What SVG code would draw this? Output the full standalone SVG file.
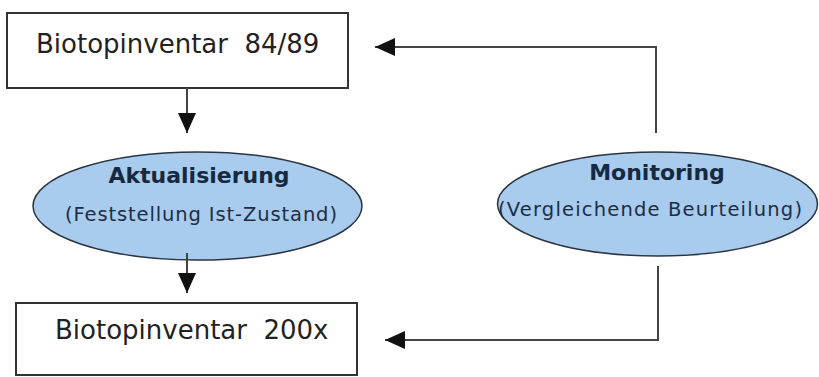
<svg xmlns="http://www.w3.org/2000/svg" width="819" height="377" viewBox="0 0 819 377">
<defs>
<marker id="ah" viewBox="0 0 20 18" refX="20" refY="9" markerWidth="20" markerHeight="18" markerUnits="userSpaceOnUse" orient="auto">
<path d="M0,0 L20,9 L0,18 Z" fill="#111"/>
</marker>
</defs>
<style>
.box{fill:#fff;stroke:#333;stroke-width:2}
.ell{fill:#a8cbee;stroke:#2a3440;stroke-width:1.5}
.bt{font-family:"DejaVu Sans",Verdana,sans-serif;font-size:26px;fill:#222;white-space:pre}
.et{font-family:"DejaVu Sans",Verdana,sans-serif;font-size:22px;font-weight:bold;fill:#152a40;text-anchor:middle}
.st{font-family:"DejaVu Sans",Verdana,sans-serif;font-size:19.5px;fill:#1c2e44;text-anchor:middle}
.c{fill:none;stroke:#444;stroke-width:2;marker-end:url(#ah)}
</style>
<rect width="819" height="377" fill="#fff"/>
<g id="box1">
<rect class="box" x="7" y="13" width="341" height="75"/>
<text class="bt" x="36" y="53">Biotopinventar  84/89</text>
</g>
<g id="aktualisierung">
<ellipse class="ell" cx="197.5" cy="206" rx="164.5" ry="54"/>
<text class="et" x="199" y="183">Aktualisierung</text>
<text class="st" x="201" y="221" textLength="272" lengthAdjust="spacing">(Feststellung Ist-Zustand)</text>
</g>
<g id="box2">
<rect class="box" x="16" y="303" width="341" height="72"/>
<text class="bt" x="55" y="339">Biotopinventar  200x</text>
</g>
<g id="monitoring">
<ellipse class="ell" cx="657.5" cy="204" rx="160" ry="52"/>
<text class="et" x="657" y="180">Monitoring</text>
<text class="st" x="650" y="216" textLength="304" lengthAdjust="spacing">(Vergleichende Beurteilung)</text>
</g>
<g id="connectors">
<path class="c" d="M187,88 V133"/>
<path class="c" d="M187,253 V293"/>
<path class="c" d="M656,133 V47 H375"/>
<path class="c" d="M658,266 V340 H385"/>
</g>
</svg>
